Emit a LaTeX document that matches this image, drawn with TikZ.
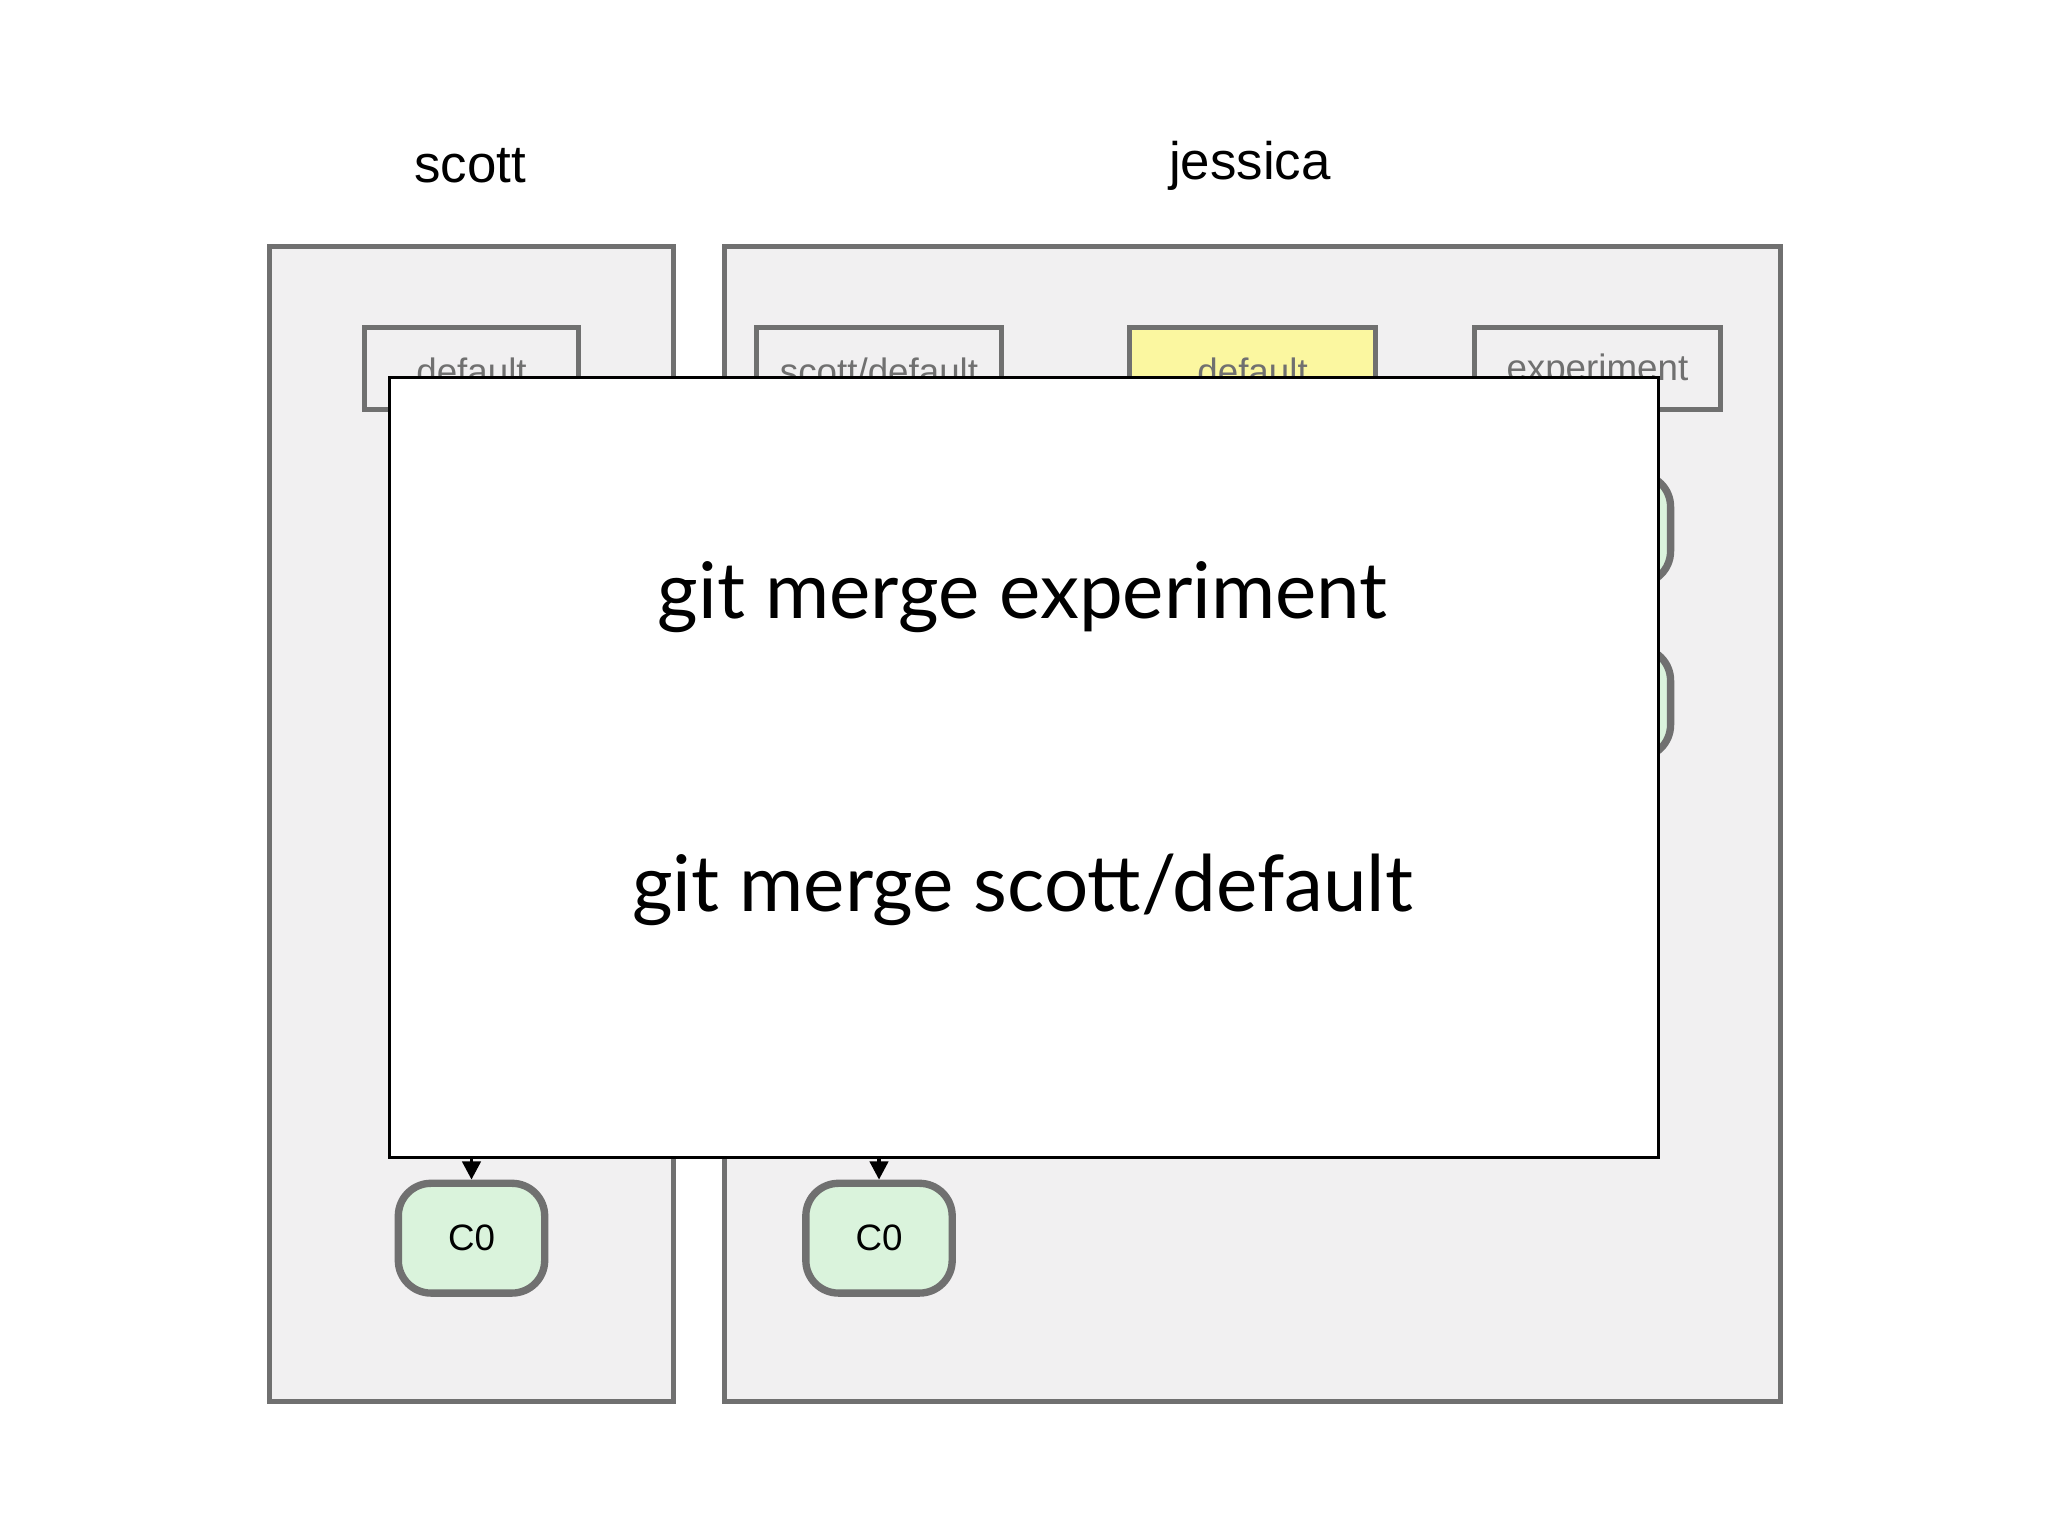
\documentclass[tikz,border=0pt]{standalone}
\usepackage{fontspec}
\setmainfont{Liberation Sans}
\newfontfamily\bigf{Lato}
\usetikzlibrary{arrows.meta}
\definecolor{bord}{HTML}{707070}
\definecolor{repo}{HTML}{F1F0F1}
\definecolor{cgreen}{HTML}{DAF3DC}
\definecolor{yel}{HTML}{FBF7A0}
\tikzset{
 repobox/.style={draw=bord,line width=1.1pt,fill=repo},
 branch/.style={draw=bord,line width=1.1pt,fill=repo,minimum width=1.64cm,minimum height=0.63cm,inner sep=0pt},
 commit/.style={draw=bord,line width=1.6pt,fill=cgreen,rounded corners=0.25cm,minimum width=1.12cm,minimum height=0.84cm,font=\fontsize{8}{9}\selectfont},
 conn/.style={line width=0.8pt,-{Triangle[length=4pt,width=4pt]}},
}
\begin{document}
\begin{tikzpicture}[x=0.01cm,y=-0.01cm]
\useasboundingbox (0,0) rectangle (1568,1176);
\node[font=\fontsize{11.5}{13}\selectfont] (ls) at (360,127) {scott};
\node[font=\fontsize{11.5}{13}\selectfont] (lj) at (957,127) {jessica};
\draw[repobox] (206,189) rectangle (516,1073);
\draw[repobox] (555,189) rectangle (1363,1073);
\node[branch,minimum width=1.64cm] (b1) at (361,282) {};
\node[branch,minimum width=1.88cm] (b2) at (673,282) {};
\node[branch,minimum width=1.88cm,fill=yel] (b3) at (959,282) {};
\node[branch,minimum width=1.88cm] (b4) at (1223,282) {};
\node[commit] (e1) at (1223,405) {};
\node[commit] (e2) at (1223,538) {};
\node[commit] (c1) at (361,948) {C0};
\node[commit] (c2) at (673,948) {C0};
\coordinate (a1) at (361,850);
\coordinate (a2) at (673,850);
\draw[conn] (a1) -- (c1);
\draw[conn] (a2) -- (c2);
\begin{scope}[font=\fontsize{8}{9}\selectfont,text=bord]
\node at (361,284) {default};
\node at (673,284) {scott/default};
\node at (959,284) {default};
\node at (1223,284) {experiment};
\end{scope}
\draw[line width=0.6pt,fill=white] (298,289) rectangle (1270,886);
\node[font=\bigf\fontsize{17}{20}\selectfont] (t1) at (783,457) {git merge experiment};
\node[font=\bigf\fontsize{17}{20}\selectfont] (t2) at (783,681) {git merge scott/default};
\end{tikzpicture}
\end{document}
